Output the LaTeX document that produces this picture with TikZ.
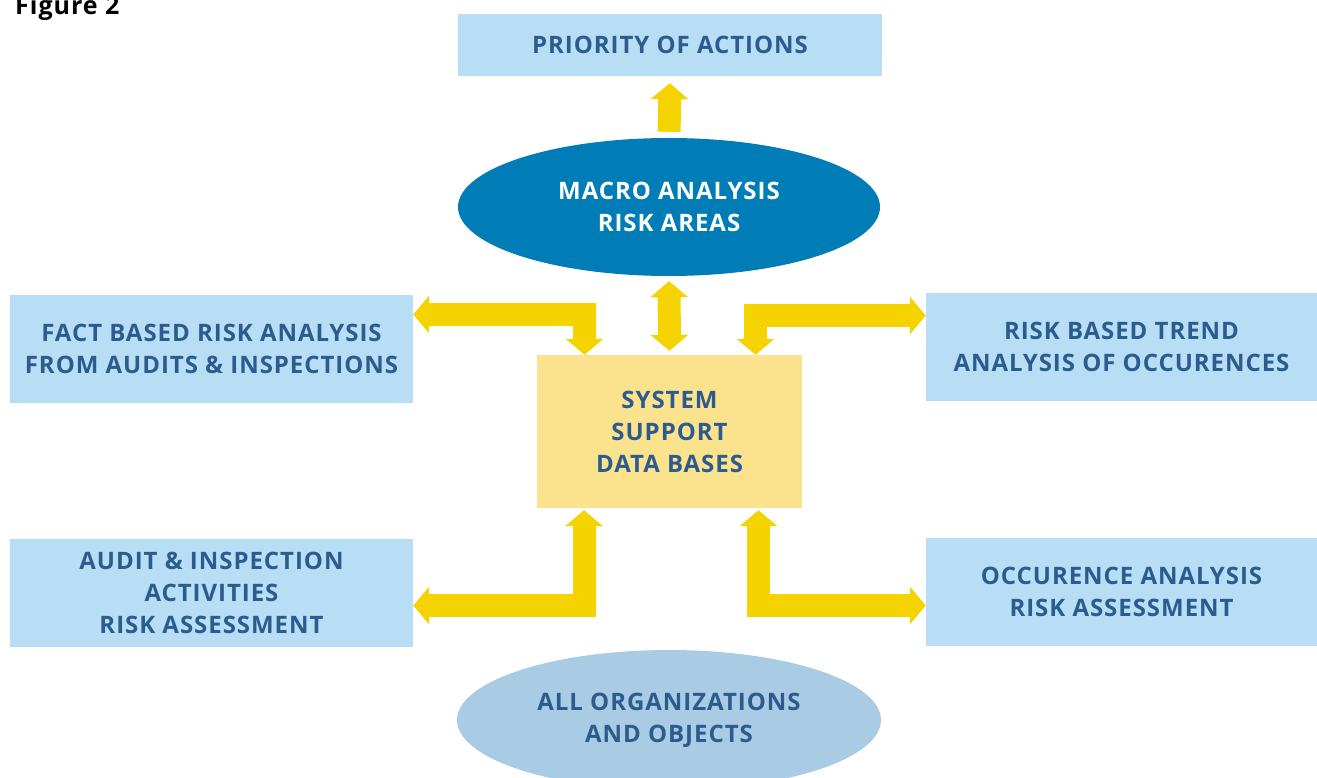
\documentclass[tikz,border=0pt]{standalone}
\usepackage{fontspec}
\setmainfont[LetterSpace=4]{Open Sans}
\usetikzlibrary{arrows.meta,shapes.geometric}
\definecolor{boxblue}{HTML}{B7DEF5}
\definecolor{textblue}{HTML}{2D5B8E}
\definecolor{macroblue}{HTML}{007DB6}
\definecolor{orgblue}{HTML}{A9CBE3}
\definecolor{sysyellow}{HTML}{FBE38E}
\definecolor{arrowyellow}{HTML}{F5D300}
\begin{document}
\begin{tikzpicture}[x=1pt,y=-1pt,
    lbl/.style={font=\bfseries\fontsize{24}{32}\selectfont,align=center,text=textblue,inner sep=0pt},
    bluebox/.style={lbl,rectangle,fill=boxblue,minimum width=403pt,minimum height=108pt},
    bigarrow/.style={draw=arrowyellow,line width=23pt,line join=miter,
        -{Triangle[width=37pt,length=16pt]}},
    bigdarrow/.style={bigarrow,{Triangle[width=37pt,length=16pt]}-{Triangle[width=37pt,length=16pt]}}]
      \useasboundingbox (0,0) rectangle (1317,778);
      \node[anchor=base west,font=\bfseries\fontsize{25}{30}\selectfont,inner sep=0pt] (fig) at (15,15) {Figure 2};
      \node[bluebox,minimum width=424pt,minimum height=62pt] (priority) at (670,45) {PRIORITY OF ACTIONS};
      \node[lbl,ellipse,fill=macroblue,text=white,minimum width=422pt,minimum height=138pt] (macro) at (669,207) {MACRO ANALYSIS\\RISK AREAS};
      \node[bluebox] (factbox) at (211.5,349) {FACT BASED RISK ANALYSIS\\FROM AUDITS \& INSPECTIONS};
      \node[bluebox,minimum width=391pt] (trendbox) at (1121.5,347) {RISK BASED TREND\\ANALYSIS OF OCCURENCES};
      \node[lbl,rectangle,fill=sysyellow,minimum width=265pt,minimum height=153pt] (system) at (669.5,431.5) {SYSTEM\\SUPPORT\\DATA BASES};
      \node[bluebox] (auditbox) at (211.5,593) {AUDIT \& INSPECTION\\ACTIVITIES\\RISK ASSESSMENT};
      \node[bluebox,minimum width=391pt] (occurbox) at (1121.5,592) {OCCURENCE ANALYSIS\\RISK ASSESSMENT};
      \node[lbl,ellipse,fill=orgblue,minimum width=424pt,minimum height=140pt] (orgs) at (669,720) {ALL ORGANIZATIONS\\AND OBJECTS};
      % corners of the bent arrows
      \coordinate (ul) at (584.5,314.5);
      \coordinate (ur) at (755.5,315.5);
      \coordinate (ll) at (584,605.5);
      \coordinate (lr) at (758.5,605.5);
      \draw[bigarrow,shorten <=6pt,shorten >=7pt] (macro.north) -- (priority.south);
      \draw[bigdarrow,shorten <=5pt,shorten >=4pt] (macro.south) -- (system.north);
      \draw[bigdarrow] (factbox.east |- ul) -- (ul) -- (ul |- system.north);
      \draw[bigdarrow] (trendbox.west |- ur) -- (ur) -- (ur |- system.north);
      \draw[bigdarrow,shorten >=2pt] (auditbox.east |- ll) -- (ll) -- (ll |- system.south);
      \draw[bigdarrow,shorten >=2pt] (occurbox.west |- lr) -- (lr) -- (lr |- system.south);
\end{tikzpicture}
\end{document}
